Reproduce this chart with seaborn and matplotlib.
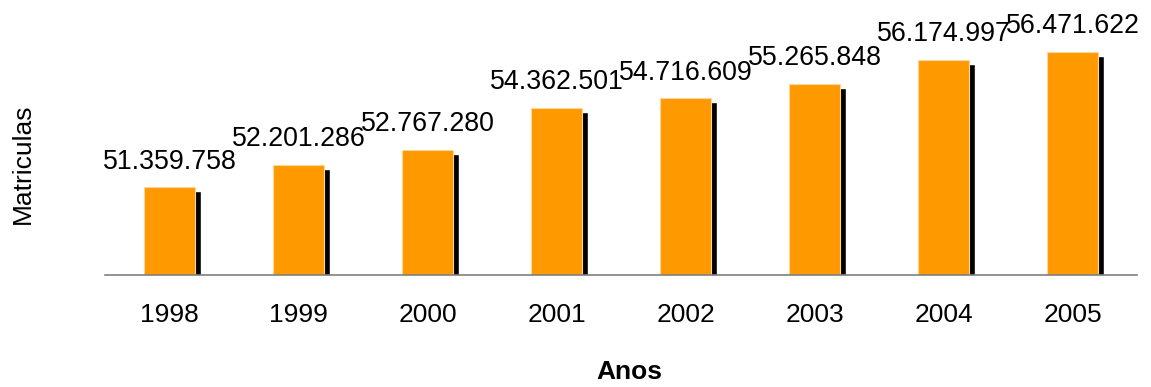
import matplotlib
matplotlib.use("Agg")
import matplotlib.pyplot as plt
import matplotlib.transforms as mtransforms
import pandas as pd
import seaborn as sns

# --- Data ---
anos = ["1998", "1999", "2000", "2001", "2002", "2003", "2004", "2005"]
matriculas = [51359758, 52201286, 52767280, 54362501, 54716609, 55265848, 56174997, 56471622]
rotulos = ["51.359.758", "52.201.286", "52.767.280", "54.362.501",
           "54.716.609", "55.265.848", "56.174.997", "56.471.622"]

df = pd.DataFrame({"ano": anos, "matriculas": matriculas})

sns.set_theme(style="white")
plt.rcParams["font.family"] = ["Liberation Sans", "DejaVu Sans"]
plt.rcParams["text.color"] = "black"

fig = plt.figure(figsize=(11.51, 3.87), dpi=100)
ax = fig.add_axes([105 / 1151, 0.2894, 1032 / 1151, 0.66])

# shadow bars (black, shifted right/down)
sns.barplot(data=df, x="ano", y="matriculas", color="black", width=0.395,
            saturation=1, ax=ax)
shift = mtransforms.ScaledTranslation(6 / 100, -4 / 100, fig.dpi_scale_trans)
for p in ax.patches:
    p.set_transform(ax.transData + shift)
    p.set_zorder(1)

n_shadow = len(ax.patches)
sns.barplot(data=df, x="ano", y="matriculas", color="#FF9900", width=0.395,
            saturation=1, edgecolor="#FFD699", linewidth=0.8, ax=ax)
for p in ax.patches[n_shadow:]:
    p.set_zorder(2)

ax.set_ylim(48.06e6, 57.69e6)
ax.set_xlim(-0.5, len(anos) - 0.5)

for i, (v, lab) in enumerate(zip(matriculas, rotulos)):
    ax.annotate(lab, (i, v), xytext=(0, 13.5), textcoords="offset points",
                ha="center", va="baseline", fontsize=19.3, color="black",
                annotation_clip=False, zorder=5)

for s in ["top", "right", "left"]:
    ax.spines[s].set_visible(False)
ax.spines["bottom"].set_color("#808080")
ax.spines["bottom"].set_linewidth(1.2)
ax.spines["bottom"].set_zorder(6)
ax.set_yticks([])
ax.tick_params(axis="x", length=0, pad=20, labelsize=19, colors="black")
ax.set_xlabel("")
ax.set_ylabel("")

fig.text(629 / 1151, 1 - 372 / 387, "Anos", ha="center", va="center",
         fontsize=19, fontweight="bold", color="black")
fig.text(23 / 1151, 1 - 164 / 387, "Matriculas", ha="center", va="center",
         rotation=90, fontsize=19, color="black")

fig.savefig("out.png", dpi=100)
